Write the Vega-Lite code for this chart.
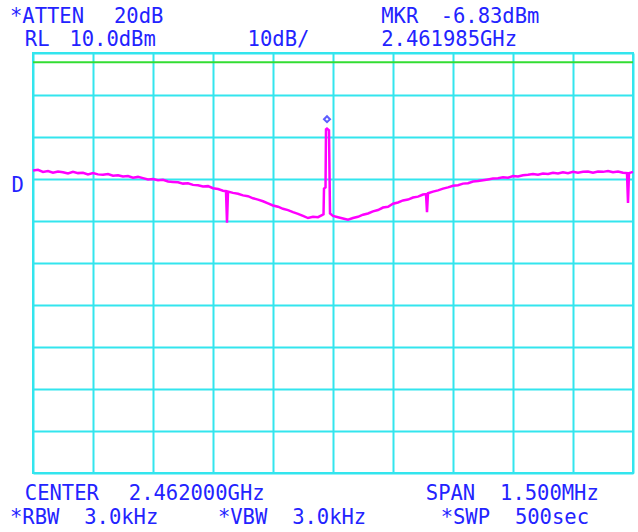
{
  "$schema": "https://vega.github.io/schema/vega-lite/v6.json",
  "width": 600,
  "height": 420,
  "autosize": {"type": "none"},
  "padding": {"left": 33, "top": 53, "right": 5, "bottom": 59},
  "background": "white",
  "config": {"view": {"stroke": "#33e5ee", "strokeWidth": 2}},
  "datasets": {
    "trace": [
      {"freq_MHz": 2461.25, "level_dBm": -18.0},
      {"freq_MHz": 2461.2625, "level_dBm": -17.8},
      {"freq_MHz": 2461.275, "level_dBm": -18.3},
      {"freq_MHz": 2461.2875, "level_dBm": -18.1},
      {"freq_MHz": 2461.3, "level_dBm": -18.5},
      {"freq_MHz": 2461.3125, "level_dBm": -18.2},
      {"freq_MHz": 2461.325, "level_dBm": -18.4},
      {"freq_MHz": 2461.3375, "level_dBm": -18.7},
      {"freq_MHz": 2461.35, "level_dBm": -18.3},
      {"freq_MHz": 2461.3625, "level_dBm": -18.6},
      {"freq_MHz": 2461.375, "level_dBm": -18.5},
      {"freq_MHz": 2461.3875, "level_dBm": -18.9},
      {"freq_MHz": 2461.4, "level_dBm": -18.6},
      {"freq_MHz": 2461.4125, "level_dBm": -18.9},
      {"freq_MHz": 2461.425, "level_dBm": -19.0},
      {"freq_MHz": 2461.4375, "level_dBm": -18.8},
      {"freq_MHz": 2461.45, "level_dBm": -19.2},
      {"freq_MHz": 2461.4625, "level_dBm": -19.1},
      {"freq_MHz": 2461.475, "level_dBm": -19.4},
      {"freq_MHz": 2461.4875, "level_dBm": -19.3},
      {"freq_MHz": 2461.5, "level_dBm": -19.7},
      {"freq_MHz": 2461.5125, "level_dBm": -19.5},
      {"freq_MHz": 2461.525, "level_dBm": -19.8},
      {"freq_MHz": 2461.5375, "level_dBm": -20.1},
      {"freq_MHz": 2461.55, "level_dBm": -20.0},
      {"freq_MHz": 2461.5625, "level_dBm": -20.3},
      {"freq_MHz": 2461.575, "level_dBm": -20.2},
      {"freq_MHz": 2461.5875, "level_dBm": -20.6},
      {"freq_MHz": 2461.6, "level_dBm": -20.7},
      {"freq_MHz": 2461.6125, "level_dBm": -20.8},
      {"freq_MHz": 2461.625, "level_dBm": -21.1},
      {"freq_MHz": 2461.6375, "level_dBm": -21.0},
      {"freq_MHz": 2461.65, "level_dBm": -21.4},
      {"freq_MHz": 2461.6625, "level_dBm": -21.5},
      {"freq_MHz": 2461.675, "level_dBm": -21.8},
      {"freq_MHz": 2461.6875, "level_dBm": -21.7},
      {"freq_MHz": 2461.7, "level_dBm": -22.2},
      {"freq_MHz": 2461.7125, "level_dBm": -22.4},
      {"freq_MHz": 2461.725, "level_dBm": -22.8},
      {"freq_MHz": 2461.7325, "level_dBm": -22.9},
      {"freq_MHz": 2461.735, "level_dBm": -30.4},
      {"freq_MHz": 2461.7375, "level_dBm": -23.0},
      {"freq_MHz": 2461.75, "level_dBm": -23.3},
      {"freq_MHz": 2461.7625, "level_dBm": -23.5},
      {"freq_MHz": 2461.775, "level_dBm": -23.9},
      {"freq_MHz": 2461.7875, "level_dBm": -24.1},
      {"freq_MHz": 2461.8, "level_dBm": -24.6},
      {"freq_MHz": 2461.8125, "level_dBm": -24.9},
      {"freq_MHz": 2461.825, "level_dBm": -25.3},
      {"freq_MHz": 2461.8375, "level_dBm": -25.8},
      {"freq_MHz": 2461.85, "level_dBm": -26.3},
      {"freq_MHz": 2461.8625, "level_dBm": -26.6},
      {"freq_MHz": 2461.875, "level_dBm": -27.1},
      {"freq_MHz": 2461.8875, "level_dBm": -27.4},
      {"freq_MHz": 2461.9, "level_dBm": -27.9},
      {"freq_MHz": 2461.9125, "level_dBm": -28.3},
      {"freq_MHz": 2461.925, "level_dBm": -28.8},
      {"freq_MHz": 2461.9375, "level_dBm": -29.3},
      {"freq_MHz": 2461.95, "level_dBm": -29.0},
      {"freq_MHz": 2461.9625, "level_dBm": -29.1},
      {"freq_MHz": 2461.9725, "level_dBm": -28.6},
      {"freq_MHz": 2461.9763, "level_dBm": -28.4},
      {"freq_MHz": 2461.9775, "level_dBm": -22.3},
      {"freq_MHz": 2461.9813, "level_dBm": -22.0},
      {"freq_MHz": 2461.9825, "level_dBm": -8.2},
      {"freq_MHz": 2461.985, "level_dBm": -8.0},
      {"freq_MHz": 2461.99, "level_dBm": -8.4},
      {"freq_MHz": 2461.9925, "level_dBm": -28.2},
      {"freq_MHz": 2462.0, "level_dBm": -28.8},
      {"freq_MHz": 2462.0125, "level_dBm": -29.1},
      {"freq_MHz": 2462.025, "level_dBm": -29.4},
      {"freq_MHz": 2462.0375, "level_dBm": -29.7},
      {"freq_MHz": 2462.05, "level_dBm": -29.3},
      {"freq_MHz": 2462.0625, "level_dBm": -29.0},
      {"freq_MHz": 2462.075, "level_dBm": -28.5},
      {"freq_MHz": 2462.0875, "level_dBm": -28.2},
      {"freq_MHz": 2462.1, "level_dBm": -27.7},
      {"freq_MHz": 2462.1125, "level_dBm": -27.4},
      {"freq_MHz": 2462.125, "level_dBm": -26.8},
      {"freq_MHz": 2462.1375, "level_dBm": -26.6},
      {"freq_MHz": 2462.15, "level_dBm": -25.9},
      {"freq_MHz": 2462.1625, "level_dBm": -25.6},
      {"freq_MHz": 2462.175, "level_dBm": -25.1},
      {"freq_MHz": 2462.1875, "level_dBm": -24.9},
      {"freq_MHz": 2462.2, "level_dBm": -24.4},
      {"freq_MHz": 2462.2125, "level_dBm": -24.2},
      {"freq_MHz": 2462.225, "level_dBm": -23.7},
      {"freq_MHz": 2462.2325, "level_dBm": -23.6},
      {"freq_MHz": 2462.235, "level_dBm": -27.9},
      {"freq_MHz": 2462.2375, "level_dBm": -23.4},
      {"freq_MHz": 2462.25, "level_dBm": -23.0},
      {"freq_MHz": 2462.2625, "level_dBm": -22.7},
      {"freq_MHz": 2462.275, "level_dBm": -22.3},
      {"freq_MHz": 2462.2875, "level_dBm": -22.0},
      {"freq_MHz": 2462.3, "level_dBm": -21.6},
      {"freq_MHz": 2462.3125, "level_dBm": -21.5},
      {"freq_MHz": 2462.325, "level_dBm": -21.1},
      {"freq_MHz": 2462.3375, "level_dBm": -21.0},
      {"freq_MHz": 2462.35, "level_dBm": -20.6},
      {"freq_MHz": 2462.3625, "level_dBm": -20.5},
      {"freq_MHz": 2462.375, "level_dBm": -20.3},
      {"freq_MHz": 2462.3875, "level_dBm": -20.1},
      {"freq_MHz": 2462.4, "level_dBm": -19.9},
      {"freq_MHz": 2462.4125, "level_dBm": -19.8},
      {"freq_MHz": 2462.425, "level_dBm": -19.6},
      {"freq_MHz": 2462.4375, "level_dBm": -19.7},
      {"freq_MHz": 2462.45, "level_dBm": -19.3},
      {"freq_MHz": 2462.4625, "level_dBm": -19.4},
      {"freq_MHz": 2462.475, "level_dBm": -19.1},
      {"freq_MHz": 2462.4875, "level_dBm": -19.0},
      {"freq_MHz": 2462.5, "level_dBm": -18.8},
      {"freq_MHz": 2462.5125, "level_dBm": -19.0},
      {"freq_MHz": 2462.525, "level_dBm": -18.7},
      {"freq_MHz": 2462.5375, "level_dBm": -18.8},
      {"freq_MHz": 2462.55, "level_dBm": -18.5},
      {"freq_MHz": 2462.5625, "level_dBm": -18.7},
      {"freq_MHz": 2462.575, "level_dBm": -18.4},
      {"freq_MHz": 2462.5875, "level_dBm": -18.6},
      {"freq_MHz": 2462.6, "level_dBm": -18.3},
      {"freq_MHz": 2462.6125, "level_dBm": -18.5},
      {"freq_MHz": 2462.625, "level_dBm": -18.3},
      {"freq_MHz": 2462.6375, "level_dBm": -18.2},
      {"freq_MHz": 2462.65, "level_dBm": -18.5},
      {"freq_MHz": 2462.6625, "level_dBm": -18.2},
      {"freq_MHz": 2462.675, "level_dBm": -18.3},
      {"freq_MHz": 2462.6875, "level_dBm": -18.1},
      {"freq_MHz": 2462.7, "level_dBm": -18.4},
      {"freq_MHz": 2462.7125, "level_dBm": -18.2},
      {"freq_MHz": 2462.725, "level_dBm": -18.5},
      {"freq_MHz": 2462.735, "level_dBm": -18.6},
      {"freq_MHz": 2462.7375, "level_dBm": -25.7},
      {"freq_MHz": 2462.74, "level_dBm": -18.6},
      {"freq_MHz": 2462.75, "level_dBm": -18.3}
    ],
    "marker": [
      {"freq_MHz": 2461.985, "level_dBm": -6.83}
    ],
    "display_line": [
      {"level_dBm": 7.8}
    ],
    "labels": [
      {"label": "*ATTEN", "freq_MHz": 2461.1925, "level_dBm": 17.14},
      {"label": "20dB", "freq_MHz": 2461.4524, "level_dBm": 17.14},
      {"label": "MKR", "freq_MHz": 2462.1206, "level_dBm": 17.14},
      {"label": "-6.83dBm", "freq_MHz": 2462.2691, "level_dBm": 17.14},
      {"label": "RL", "freq_MHz": 2461.2296, "level_dBm": 11.67},
      {"label": "10.0dBm", "freq_MHz": 2461.341, "level_dBm": 11.67},
      {"label": "10dB/", "freq_MHz": 2461.7865, "level_dBm": 11.67},
      {"label": "2.461985GHz", "freq_MHz": 2462.1206, "level_dBm": 11.67},
      {"label": "D", "freq_MHz": 2461.196, "level_dBm": -23.1},
      {"label": "CENTER", "freq_MHz": 2461.2296, "level_dBm": -96.43},
      {"label": "2.462000GHz", "freq_MHz": 2461.4895, "level_dBm": -96.43},
      {"label": "SPAN", "freq_MHz": 2462.232, "level_dBm": -96.43},
      {"label": "1.500MHz", "freq_MHz": 2462.4176, "level_dBm": -96.43},
      {"label": "*RBW", "freq_MHz": 2461.1925, "level_dBm": -102.14},
      {"label": "3.0kHz", "freq_MHz": 2461.3781, "level_dBm": -102.14},
      {"label": "*VBW", "freq_MHz": 2461.7123, "level_dBm": -102.14},
      {"label": "3.0kHz", "freq_MHz": 2461.8979, "level_dBm": -102.14},
      {"label": "*SWP", "freq_MHz": 2462.2691, "level_dBm": -102.14},
      {"label": "500sec", "freq_MHz": 2462.4548, "level_dBm": -102.14}
    ]
  },
  "layer": [
    {
      "data": {"name": "trace"},
      "mark": {"type": "line", "color": "#ff00ff", "strokeWidth": 2.5},
      "encoding": {
        "x": {
          "field": "freq_MHz", "type": "quantitative",
          "scale": {"domain": [2461.25, 2462.75], "nice": false, "zero": false},
          "axis": {
            "values": [2461.25, 2461.4, 2461.55, 2461.7, 2461.85, 2462.0, 2462.15, 2462.3, 2462.45, 2462.6, 2462.75],
            "grid": true, "gridColor": "#33e5ee", "gridWidth": 2, "gridOpacity": 1,
            "labels": false, "ticks": false, "domain": false, "title": null
          }
        },
        "y": {
          "field": "level_dBm", "type": "quantitative",
          "scale": {"domain": [-90, 10], "nice": false, "zero": false},
          "axis": {
            "values": [-90, -80, -70, -60, -50, -40, -30, -20, -10, 0, 10],
            "grid": true, "gridColor": "#33e5ee", "gridWidth": 2, "gridOpacity": 1,
            "labels": false, "ticks": false, "domain": false, "title": null
          }
        }
      }
    },
    {
      "data": {"name": "display_line"},
      "mark": {"type": "rule", "color": "#33dd33", "strokeWidth": 2},
      "encoding": {
        "y": {"field": "level_dBm", "type": "quantitative", "scale": {"domain": [-90, 10], "nice": false, "zero": false}}
      }
    },
    {
      "data": {"name": "marker"},
      "mark": {"type": "point", "shape": "diamond", "filled": false, "stroke": "#1a1aff", "strokeWidth": 2, "size": 36, "yOffset": -4.5},
      "encoding": {
        "x": {"field": "freq_MHz", "type": "quantitative", "scale": {"domain": [2461.25, 2462.75], "nice": false, "zero": false}},
        "y": {"field": "level_dBm", "type": "quantitative", "scale": {"domain": [-90, 10], "nice": false, "zero": false}}
      }
    },
    {
      "data": {"name": "labels"},
      "mark": {"type": "text", "align": "left", "baseline": "alphabetic", "font": "DejaVu Sans Mono", "fontSize": 20.5, "color": "#2323ff"},
      "encoding": {
        "x": {"field": "freq_MHz", "type": "quantitative", "scale": {"domain": [2461.25, 2462.75], "nice": false, "zero": false}},
        "y": {"field": "level_dBm", "type": "quantitative", "scale": {"domain": [-90, 10], "nice": false, "zero": false}},
        "text": {"field": "label", "type": "nominal"}
      }
    }
  ]
}
